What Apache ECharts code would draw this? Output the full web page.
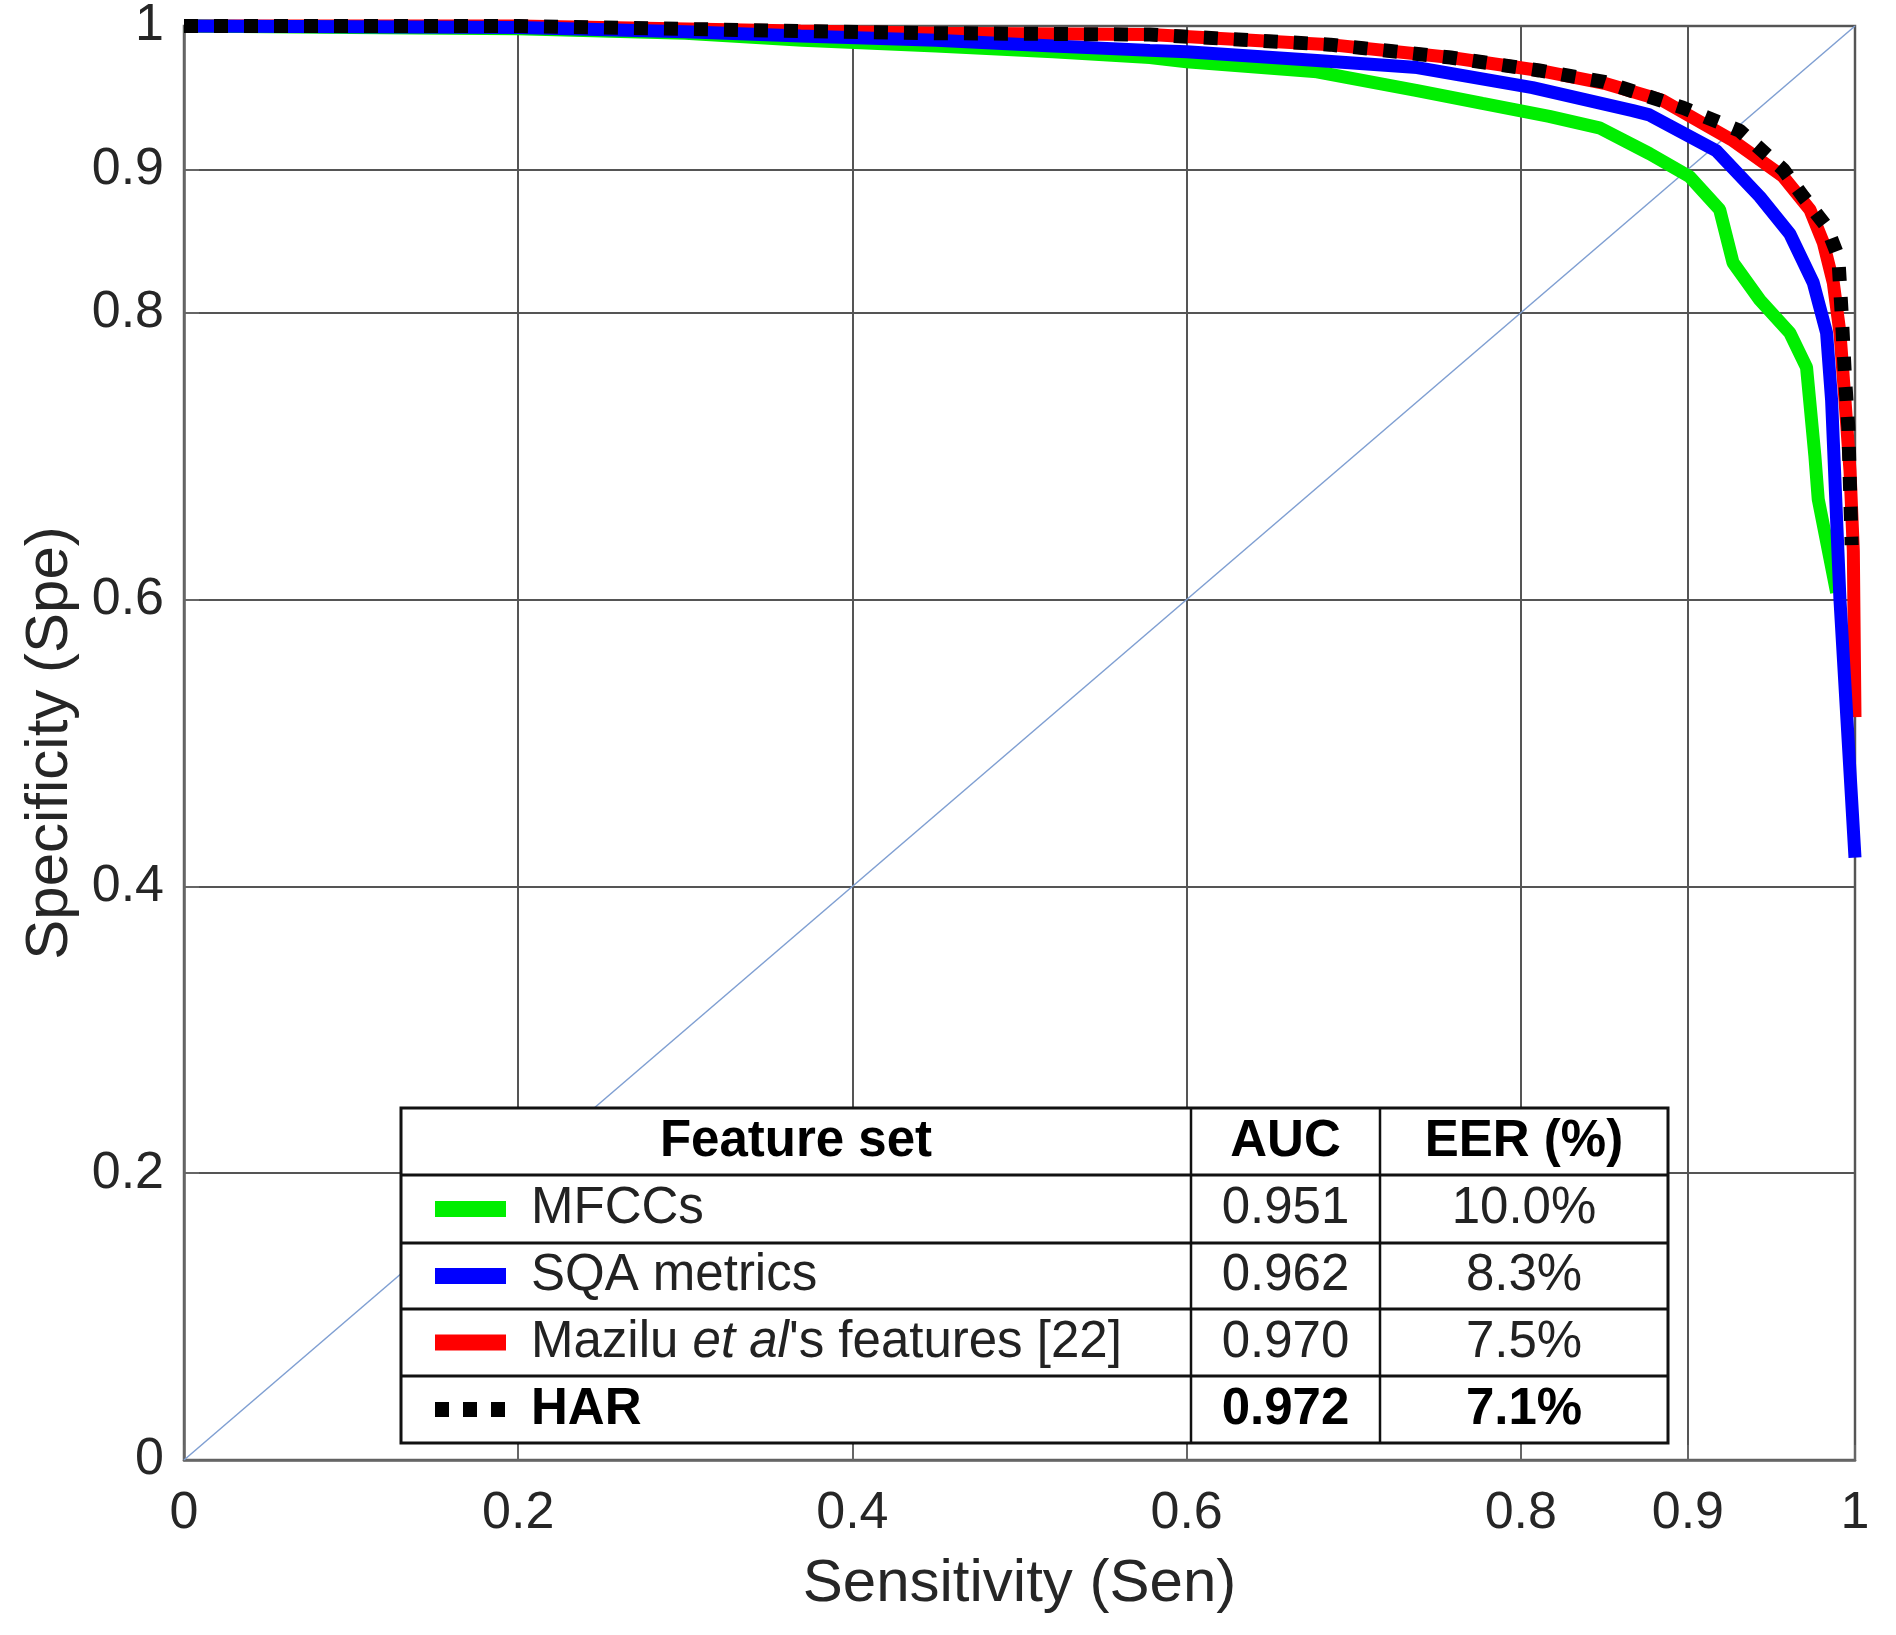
<!DOCTYPE html>
<html>
<head>
<meta charset="utf-8">
<title>ROC</title>
<script src="https://cdn.jsdelivr.net/npm/echarts@6/dist/echarts.min.js"></script>
<style>
  html, body { margin: 0; padding: 0; background: #fff; }
  #chart { width: 1896px; height: 1635px; }
</style>
</head>
<body>
<div id="chart"></div>
<script>
// 坐标轴刻度
var xTicks = [0, 0.2, 0.4, 0.6, 0.8, 0.9, 1];
var yTicks = [0, 0.2, 0.4, 0.6, 0.8, 0.9, 1];

// MFCCs
var mfccSen = [0, 0.1, 0.2, 0.3, 0.37, 0.45, 0.52, 0.578, 0.6, 0.678, 0.738, 0.777, 0.817, 0.847, 0.877, 0.901, 0.919, 0.927, 0.943, 0.961, 0.971, 0.976, 0.978, 0.989];
var mfccSpe = [1, 0.999, 0.998, 0.995, 0.99, 0.986, 0.982, 0.978, 0.975, 0.968, 0.955, 0.946, 0.937, 0.929, 0.911, 0.895, 0.872, 0.835, 0.809, 0.786, 0.762, 0.70, 0.67, 0.605];

// SQA metrics
var sqaSen = [0, 0.1, 0.2, 0.3, 0.369, 0.45, 0.52, 0.578, 0.6, 0.678, 0.738, 0.807, 0.867, 0.877, 0.917, 0.943, 0.961, 0.975, 0.983, 0.986, 0.991, 1.0];
var sqaSpe = [1, 0.9995, 0.999, 0.996, 0.993, 0.99, 0.986, 0.983, 0.982, 0.976, 0.971, 0.957, 0.941, 0.938, 0.913, 0.881, 0.855, 0.821, 0.786, 0.739, 0.60, 0.42];

// Mazilu et al's features
var mazSen = [0, 0.2, 0.369, 0.45, 0.578, 0.686, 0.758, 0.811, 0.85, 0.885, 0.927, 0.957, 0.973, 0.981, 0.987, 0.991, 0.994, 0.997, 0.999, 1.0];
var mazSpe = [1, 1, 0.9965, 0.995, 0.994, 0.987, 0.978, 0.969, 0.96, 0.948, 0.92, 0.895, 0.872, 0.849, 0.821, 0.786, 0.739, 0.69, 0.634, 0.518];

// HAR
var harSen = [0, 0.2, 0.369, 0.45, 0.578, 0.686, 0.758, 0.811, 0.85, 0.897, 0.931, 0.957, 0.969, 0.983, 0.99, 0.992, 0.994, 0.996, 0.998];
var harSpe = [1, 1, 0.9965, 0.995, 0.994, 0.987, 0.978, 0.969, 0.961, 0.943, 0.927, 0.9, 0.881, 0.86, 0.839, 0.8, 0.755, 0.72, 0.638];

// 表格内容
var tableHead = ['Feature set', 'AUC', 'EER (%)'];
var featNames = ['MFCCs', 'SQA metrics', 'Mazilu {i|et al}\'s features [22]', 'HAR'];
var aucVals = ['0.951', '0.962', '0.970', '0.972'];
var eerVals = ['10.0%', '8.3%', '7.5%', '7.1%'];
var lineColors = ['#00ee00', '#0000ff', '#ff0000', '#000000'];

function zip(a, b) {
    var out = [];
    for (var i = 0; i < a.length; i++) out.push([a[i], b[i]]);
    return out;
}

var FONT = '"Liberation Sans", Arial, Helvetica, sans-serif';
var FS = 51;
var myChart = echarts.init(document.getElementById('chart'));

// 表格（图例）
var colX = [401, 1191, 1380, 1668];
var rowY = [1108, 1175, 1243, 1309, 1376, 1443];
var graphics = [];
graphics.push({
    type: 'rect', z: 100,
    shape: { x: colX[0], y: rowY[0], width: colX[3] - colX[0], height: rowY[5] - rowY[0] },
    style: { fill: '#fff', stroke: '#111', lineWidth: 3 }
});
for (var r = 1; r < 5; r++) {
    graphics.push({
        type: 'line', z: 101,
        shape: { x1: colX[0], y1: rowY[r], x2: colX[3], y2: rowY[r] },
        style: { stroke: '#111', lineWidth: 3 }
    });
}
for (var c = 1; c < 3; c++) {
    graphics.push({
        type: 'line', z: 101,
        shape: { x1: colX[c], y1: rowY[0], x2: colX[c], y2: rowY[5] },
        style: { stroke: '#111', lineWidth: 2.5 }
    });
}
for (var h = 0; h < 3; h++) {
    graphics.push({
        type: 'text', z: 102,
        x: (colX[h] + colX[h + 1]) / 2, y: (rowY[0] + rowY[1]) / 2,
        style: { text: tableHead[h], fontFamily: FONT, fontSize: FS, fontWeight: 'bold', fill: '#000', align: 'center', verticalAlign: 'middle' }
    });
}
for (var i = 0; i < 4; i++) {
    var cy = (rowY[i + 1] + rowY[i + 2]) / 2;
    var bold = i === 3 ? 'bold' : 'normal';
    var txtColor = i === 3 ? '#000' : '#222';
    graphics.push({
        type: 'line', z: 102,
        shape: { x1: 435, y1: cy, x2: 506, y2: cy },
        style: { stroke: lineColors[i], lineWidth: i === 3 ? 15 : 16, lineDash: i === 3 ? [14, 14] : null, lineCap: 'butt' }
    });
    graphics.push({
        type: 'text', z: 102, x: 531, y: cy,
        style: {
            text: featNames[i], fontFamily: FONT, fontSize: FS, fontWeight: bold, fill: txtColor,
            verticalAlign: 'middle', align: 'left',
            rich: { i: { fontStyle: 'italic', fontFamily: FONT, fontSize: FS, fill: txtColor } }
        }
    });
    graphics.push({
        type: 'text', z: 102, x: (colX[1] + colX[2]) / 2, y: cy,
        style: { text: aucVals[i], fontFamily: FONT, fontSize: FS, fontWeight: bold, fill: txtColor, align: 'center', verticalAlign: 'middle' }
    });
    graphics.push({
        type: 'text', z: 102, x: (colX[2] + colX[3]) / 2, y: cy,
        style: { text: eerVals[i], fontFamily: FONT, fontSize: FS, fontWeight: bold, fill: txtColor, align: 'center', verticalAlign: 'middle' }
    });
}

var axisColor = '#666';
var option = {
    animation: false,
    backgroundColor: '#fff',
    textStyle: { fontFamily: FONT },
    grid: {
        left: 184, right: 41, top: 25, bottom: 175,
        show: true, borderColor: axisColor, borderWidth: 2.5, backgroundColor: '#fff'
    },
    xAxis: {
        type: 'value', min: 0, max: 1,
        name: 'Sensitivity (Sen)', nameLocation: 'middle', nameGap: 94,
        nameTextStyle: { fontFamily: FONT, fontSize: 60, color: '#262626' },
        axisLine: { show: true, lineStyle: { color: axisColor, width: 2.5 } },
        axisTick: { show: true, inside: true, length: 15, customValues: xTicks, lineStyle: { color: axisColor, width: 2 } },
        axisLabel: { customValues: xTicks, margin: 28, fontFamily: FONT, fontSize: 52, color: '#262626' },
        splitLine: { show: true, lineStyle: { color: '#555', width: 2 } }
    },
    yAxis: {
        type: 'value', min: 0, max: 1,
        name: 'Specificity (Spe)', nameLocation: 'middle', nameGap: 102,
        nameTextStyle: { fontFamily: FONT, fontSize: 60, color: '#262626' },
        axisLine: { show: true, lineStyle: { color: axisColor, width: 2.5 } },
        axisTick: { show: true, inside: true, length: 15, customValues: yTicks, lineStyle: { color: axisColor, width: 2 } },
        axisLabel: { customValues: yTicks, margin: 20, fontFamily: FONT, fontSize: 52, color: '#262626' },
        splitLine: { show: true, lineStyle: { color: '#555', width: 2 } }
    },
    series: [
        {
            name: 'diag', type: 'line', data: [[0, 0], [1, 1]], symbol: 'none', silent: true,
            lineStyle: { color: '#7f9fd2', width: 1.5 }
        },
        {
            name: 'Mazilu', type: 'line', data: zip(mazSen, mazSpe), symbol: 'none', clip: false,
            lineStyle: { color: lineColors[2], width: 13 }
        },
        {
            name: 'MFCCs', type: 'line', data: zip(mfccSen, mfccSpe), symbol: 'none', clip: false,
            lineStyle: { color: lineColors[0], width: 13 }
        },
        {
            name: 'SQA metrics', type: 'line', data: zip(sqaSen, sqaSpe), symbol: 'none', clip: false,
            lineStyle: { color: lineColors[1], width: 13 }
        },
        {
            name: 'HAR', type: 'line', data: zip(harSen, harSpe), symbol: 'none', clip: false,
            lineStyle: { color: lineColors[3], width: 14, type: [14, 16], cap: 'butt' }
        }
    ],
    graphic: graphics
};

myChart.setOption(option);
</script>
</body>
</html>
